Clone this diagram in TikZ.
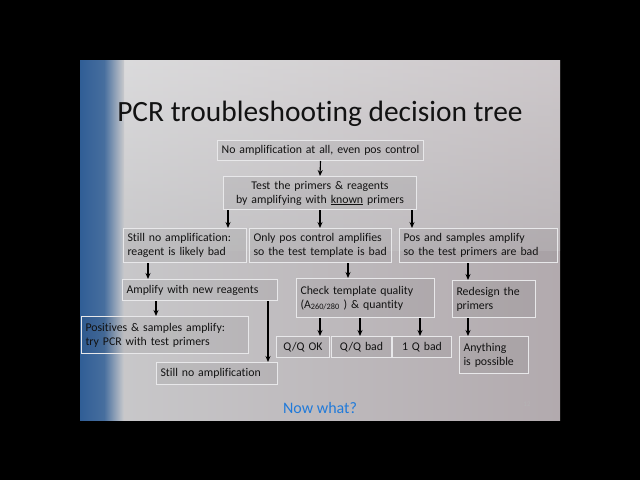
\documentclass[tikz,border=0pt]{standalone}
\usepackage{fontspec}
\setmainfont[Ligatures=NoCommon]{Carlito}
\usetikzlibrary{arrows.meta}
\definecolor{slidegrey}{RGB}{202,202,204}
\definecolor{slidepink}{RGB}{178,170,174}
\definecolor{stripeblue}{RGB}{48,94,150}
\definecolor{boxline}{RGB}{232,232,234}
\definecolor{inkgrey}{RGB}{18,18,18}
\definecolor{nowblue}{RGB}{32,122,218}

\begin{document}
\begin{tikzpicture}[
    x=1pt, y=-1pt,
    box/.style={draw=boxline, line width=1pt, fill=black, fill opacity=0.05,
                text opacity=1, text=inkgrey, anchor=north west, inner xsep=4pt,
                inner ysep=1pt, font=\fontsize{11.8}{14}\selectfont},
    arr/.style={-{Stealth[length=6pt, width=5pt]}, line width=1.1pt, black}
]
    \useasboundingbox (0,0) rectangle (640,480);
    \fill[black] (0,0) rectangle (640,480);
    \shade[left color=slidegrey, right color=slidepink] (80,60) rectangle (560,420);
    \shade[top color=white, bottom color=slidegrey, opacity=0.35] (120,60) rectangle (560,250);
    \shade[left color=stripeblue, right color=stripeblue!85!slidegrey] (80,60) rectangle (104,420);
    \shade[left color=stripeblue!85!slidegrey, right color=slidegrey] (104,60) rectangle (124,420);

    \node[font=\fontsize{29.4}{33}\selectfont, text=inkgrey] (title) at (320,114) {PCR troubleshooting decision tree};

    \node[box, minimum width=206, minimum height=20, text width=198, align=center] (none) at (217,140) {No amplification at all, even pos control};
    \node[box, minimum width=193, minimum height=33, text width=185, align=center] (test) at (223,176) {Test the primers \& reagents\\by amplifying with \underline{known} primers};

    \node[box, minimum width=123, minimum height=34, text width=115, align=left] (reag) at (123,228) {Still no amplification:\\reagent is likely bad};
    \node[box, minimum width=142, minimum height=34, text width=134, align=left] (tmpl) at (249,228) {Only pos control amplifies\\so the test template is bad};
    \node[box, minimum width=158, minimum height=34, text width=150, align=left] (prim) at (399,228) {Pos and samples amplify\\so the test primers are bad};

    \node[box, minimum width=155, minimum height=21, text width=147, align=left] (newr) at (122,279) {Amplify with new reagents};
    \node[box, minimum width=138, minimum height=39, text width=130, align=left] (chk) at (296,278) {Check template quality\\(A\textsubscript{260/280} ) \& quantity};
    \node[box, minimum width=83, minimum height=37, text width=75, align=left] (redes) at (452,280) {Redesign the\\primers};

    \node[box, minimum width=167, minimum height=37, text width=159, align=left] (pos) at (81,316) {Positives \& samples amplify:\\try PCR with test primers};
    \node[box, minimum width=53, minimum height=21, text width=45, align=center] (qok) at (276,336) {Q/Q OK};
    \node[box, minimum width=60, minimum height=21, text width=52, align=center] (qbad) at (331,336) {Q/Q bad};
    \node[box, minimum width=59, minimum height=21, text width=51, align=center] (onebad) at (392,336) {1 Q bad};
    \node[box, minimum width=69, minimum height=37, text width=61, align=left] (any) at (459,336) {Anything\\is possible};
    \node[box, minimum width=121, minimum height=22, text width=113, align=left] (still) at (156,362) {Still no amplification};

    \draw[arr] (none.south) -- (test.north);
    \draw[arr] (test.south -| 228,0) -- (reag.north -| 228,0);
    \draw[arr] (test.south -| 320,0) -- (tmpl.north -| 320,0);
    \draw[arr] (test.south -| 412,0) -- (prim.north -| 412,0);
    \draw[arr] (reag.south -| 148,0) -- (newr.north -| 148,0);
    \draw[arr] (tmpl.south -| 348,0) -- (chk.north -| 348,0);
    \draw[arr] (prim.south -| 468,0) -- (redes.north -| 468,0);
    \draw[arr] (newr.south -| 156,0) -- (pos.north -| 156,0);
    \draw[arr] (newr.south -| 268,0) -- (still.north -| 268,0);
    \draw[arr] (chk.south -| 320,0) -- (qok.north -| 320,0);
    \draw[arr] (chk.south -| 360,0) -- (qbad.north -| 360,0);
    \draw[arr] (chk.south -| 420,0) -- (onebad.north -| 420,0);
    \draw[arr] (redes.south -| 468,0) -- (any.north -| 468,0);

    \node[font=\fontsize{16}{18}\selectfont, text=nowblue] (now) at (320,408) {Now what?};
    \node[font=\fontsize{7}{8}\selectfont, text=slidegrey!70!gray] (page) at (527,404) {12};
\end{tikzpicture}
\end{document}
